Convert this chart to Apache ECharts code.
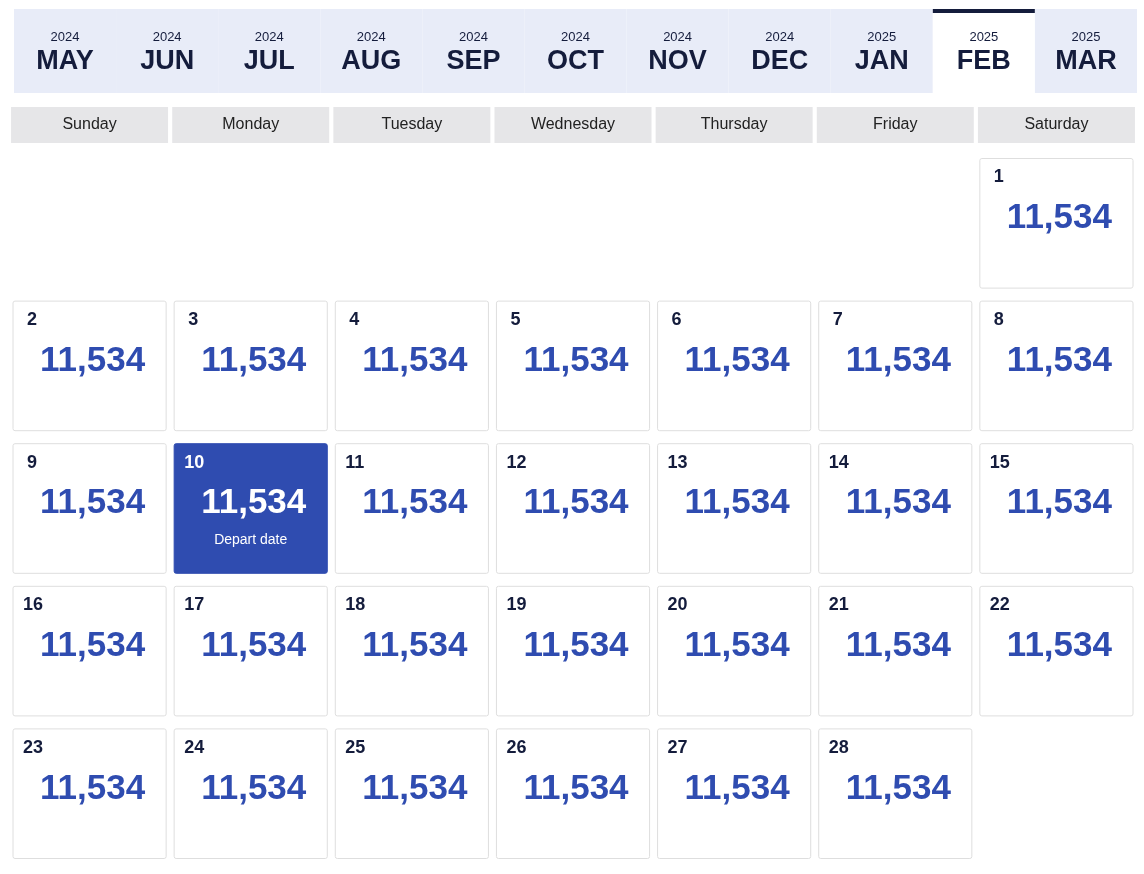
<!DOCTYPE html>
<html><head><meta charset="utf-8">
<script src="https://cdn.jsdelivr.net/npm/echarts@6/dist/echarts.min.js"></script>
<style>html,body{margin:0;padding:0;background:#fff}#c{width:1144px;height:874px}</style>
</head><body><div id="c"></div>
<script>
const monthNames = ['MAY','JUN','JUL','AUG','SEP','OCT','NOV','DEC','JAN','FEB','MAR'];
const monthYears = ['2024','2024','2024','2024','2024','2024','2024','2024','2025','2025','2025'];
const selectedMonth = 'FEB';
const weekdays = ['Sunday','Monday','Tuesday','Wednesday','Thursday','Friday','Saturday'];
const weeks = ['w1','w2','w3','w4','w5'];
const days = [1,2,3,4,5,6,7,8,9,10,11,12,13,14,15,16,17,18,19,20,21,22,23,24,25,26,27,28];
const prices = [11534,11534,11534,11534,11534,11534,11534,11534,11534,11534,11534,11534,11534,11534,11534,11534,11534,11534,11534,11534,11534,11534,11534,11534,11534,11534,11534,11534];
const departDay = 10;
const firstWeekday = 6; // Feb 1 2025 is Saturday

const FONT = '"Liberation Sans", Arial, sans-serif';
const BLUE = '#2f4cb0', DARK = '#141c3c';
const cellData = days.map((d,i)=>{const k=d-1+firstWeekday;return [k%7, Math.floor(k/7), d, prices[i]];});

const chart = echarts.init(document.getElementById('c'));
chart.setOption({
  animation:false,
  grid:[{left:9,right:7,top:152,bottom:9},{left:14,right:7,top:9,height:84}],
  xAxis:[
    {type:'category',data:weekdays,position:'top',gridIndex:0,axisLine:{show:false},axisTick:{show:false},
     axisLabel:{margin:9,fontFamily:FONT,fontSize:16,color:'#222',backgroundColor:'#e6e6e8',width:157,height:36,lineHeight:36,align:'center'}},
    {type:'category',data:monthNames,gridIndex:1,show:false}
  ],
  yAxis:[
    {type:'category',data:weeks,inverse:true,gridIndex:0,show:false},
    {type:'value',gridIndex:1,min:0,max:1,show:false}
  ],
  series:[
    {type:'custom',xAxisIndex:0,yAxisIndex:0,data:cellData,
     renderItem:(p,api)=>{
       const c=api.coord([api.value(0),api.value(1)]);
       const s=api.size([1,1]);
       const w=s[0]-8,h=s[1]-13;
       const x=c[0]-w/2,y=c[1]-h/2;
       const d=api.value(2),sel=d===departDay;
       const kids=[
        {type:'rect',shape:{x:x,y:y,width:w,height:h,r:2},style:{fill:sel?BLUE:'#fff',stroke:sel?BLUE:'#dedede',lineWidth:1}},
        {type:'text',style:{x:x+ (d<10?14:10),y:y+19,text:String(d),font:'bold 18px '+FONT,fill:sel?'#fff':DARK,verticalAlign:'middle'}},
        {type:'text',style:{x:c[0]+3,y:y+60,text:api.value(3).toLocaleString('en-US'),font:'bold 35px '+FONT,fill:sel?'#fff':BLUE,align:'center',verticalAlign:'middle'}}
       ];
       if(sel) kids.push({type:'text',style:{x:c[0],y:y+96,text:'Depart date',font:'14px '+FONT,fill:'#fff',align:'center',verticalAlign:'middle'}});
       return {type:'group',children:kids};
     }},
    {type:'custom',xAxisIndex:1,yAxisIndex:1,data:monthNames.map((m,i)=>[i,monthYears[i]]),
     renderItem:(p,api)=>{
       const i=api.value(0);
       const c=api.coord([i,0.5]);const s=api.size([1,1]);
       const x=c[0]-s[0]/2,y=c[1]-s[1]/2,w=s[0],h=s[1];
       const sel=monthNames[i]===selectedMonth;
       const kids=[{type:'rect',shape:{x:x,y:y,width:w,height:h},style:{fill:sel?'#fff':'#e8ecf8'}},
        {type:'text',style:{x:c[0],y:y+28,text:monthYears[i],font:'13px '+FONT,fill:DARK,align:'center',verticalAlign:'middle'}},
        {type:'text',style:{x:c[0],y:y+53,text:monthNames[i],font:'bold 27px '+FONT,fill:DARK,align:'center',verticalAlign:'middle'}}];
       if(sel) kids.push({type:'rect',shape:{x:x,y:y,width:w,height:4},style:{fill:DARK}});
       return {type:'group',children:kids};
     }}
  ]
});
</script></body></html>
